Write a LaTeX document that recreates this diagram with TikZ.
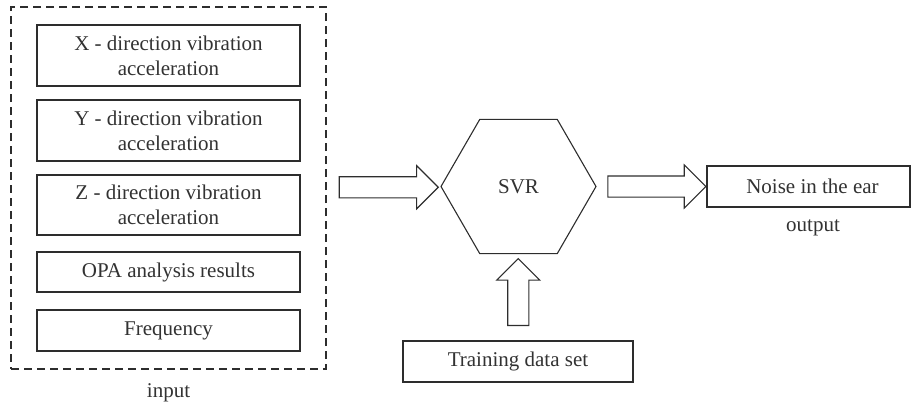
\documentclass[tikz,border=0pt]{standalone}
\usepackage{fontspec}
\setmainfont{Liberation Serif}
\usepackage{tikz}
\usetikzlibrary{shapes.geometric,shapes.arrows,calc}
\definecolor{LineGray}{RGB}{45,45,45}
\definecolor{TextGray}{RGB}{50,50,50}

\begin{document}
\begin{tikzpicture}[x=1pt, y=-1pt,
    txt/.style={text=TextGray, font=\fontsize{21}{25}\selectfont},
    box/.style={txt, draw=LineGray, line width=1.1pt, inner sep=0pt, align=center, minimum width=263pt},
    fatarrow/.style={single arrow, draw=LineGray, line width=1.1pt, inner sep=0pt, inner ysep=10pt, single arrow head extend=11pt, single arrow tip angle=90, minimum width=42pt}]
        \useasboundingbox (0,0) rectangle (912,410);
        % input side
        \node[box, minimum height=61pt] (xacc) at (168.5,55.5) {X - direction vibration\\acceleration};
        \node[box, minimum height=61pt] (yacc) at (168.5,130.5) {Y - direction vibration\\acceleration};
        \node[box, minimum height=60pt] (zacc) at (168.5,205) {Z - direction vibration\\acceleration};
        \node[box, minimum height=40pt] (opa) at (168.5,272) {OPA analysis results};
        \node[box, minimum height=41pt] (freq) at (168.5,330.5) {Frequency};
        \node[draw=LineGray, line width=1.1pt, dash pattern=on 8pt off 5pt, minimum width=315pt, minimum height=362pt, inner sep=0pt] (group) at (168.5,188) {};
        \node[txt] (inlbl) at (168.5,393) {input};
        % model and output
        \node[txt, draw=LineGray, line width=1.1pt, regular polygon, regular polygon sides=6, minimum size=155pt, inner sep=0pt] (svr) at (518.5,186.5) {SVR};
        \node[box, minimum width=203pt, minimum height=41pt] (outbox) at (808.5,186.5) {\hspace*{8pt}Noise in the ear};
        \node[txt] (outlbl) at (813,228) {output};
        \node[box, minimum width=230pt, minimum height=41pt] (train) at (518,361.5) {Training data set};
        % block arrows
        \node[fatarrow, minimum height=99pt] (arrin) at ($(group.east)!0.5!(svr.west)$) {};
        \node[fatarrow, minimum height=98pt] (arrout) at ($(svr.east)!0.5!(outbox.west)$) {};
        \node[fatarrow, minimum height=67pt, rotate=90] (arrtrain) at ($(train.north)!0.5!(svr.south)$) {};
      \end{tikzpicture}
\end{document}
